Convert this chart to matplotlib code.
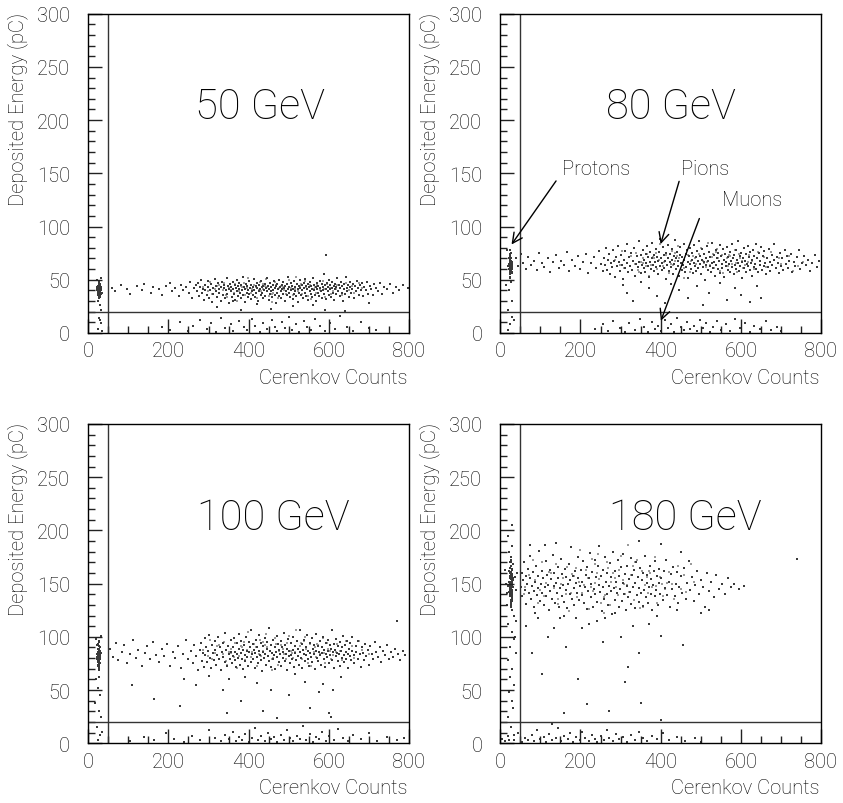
import numpy as np
import matplotlib
matplotlib.use('Agg')
import matplotlib.pyplot as plt
from matplotlib.ticker import MultipleLocator

plt.rcParams['font.family'] = ['Roboto', 'DejaVu Sans']
plt.rcParams['font.weight'] = 'light'

# beam energies, one panel each
energies = ['50 GeV', '80 GeV', '100 GeV', '180 GeV']

# ---- 50 GeV ----
protons_50 = [(22,40),(25,42),(27,38),(28,41),(30,39),(24,36),(26,44),(29,40),(31,37),(27,43),
              (28,35),(25,39),(23,41),(30,45),(32,38),(26,47),(28,40),(29,42),(27,33),(24,38),
              (31,41),(28,44),(26,37),(30,39),(29,46),(27,41),(25,36),(33,40),(22,43),(28,39),
              (29,34),(26,42),(34,38),(27,48),(30,41),(25,39),(28,37),(31,43),(24,40),(29,35),
              (26,41),(29,38),(27,44),(30,42),(25,37),(28,46),(31,40),(27,35),(29,43),(26,39),
              (28,42),(30,37),(24,44),(27,40),(29,36),(28,41),(26,45),(32,42),(25,41),(28,38),
              (27,42),(30,44),(29,39),(26,36),(28,43),
              (24,30),(30,26),(33,22),(27,14),(31,9),(25,4),(35,2),(29,12),(22,50),(32,52)]
pions_50 = [(58,42),(66,39),(81,45),(97,41),(104,37),(121,44),(133,40),(139,46),(157,38),(161,43),
            (176,41),(183,36),(194,44),(203,47),(209,39),(217,42),(226,35),(231,45),(237,40),(244,43),
            (251,38),(255,48),(259,33),(264,42),(268,45),
            (271,39),(273,47),(276,35),(279,43),(281,50),(284,38),(285,41),(288,31),(291,45),(292,40),
            (295,36),(298,49),(299,43),(302,33),(304,40),(306,46),(309,29),(311,42),(312,37),(315,51),
            (318,39),(319,44),(321,34),(324,47),(325,41),(327,38),(330,43),(332,30),(333,48),(336,36),
            (338,42),(339,45),(341,33),(344,40),(345,52),(347,37),(349,44),(351,28),(352,41),(354,46),
            (356,39),(357,43),(359,34),(360,48),(362,41),(364,37),(365,45),(367,31),(368,42),(370,50),
            (371,39),(373,44),(374,35),(376,41),(377,47),(379,38),(381,33),(382,45),(384,40),(385,53),
            (387,36),(388,43),(390,29),(392,41),(393,46),(395,38),(396,44),(398,34),(399,40),(401,49),
            (402,37),(404,42),(405,32),(407,45),(409,39),(410,43),(412,36),(413,51),(414,40),(416,34),
            (418,44),(419,38),(421,47),(422,42),(424,30),(425,39),(427,45),(428,41),(430,36),(431,49),
            (433,43),(434,38),(436,33),(437,44),(439,40),(440,46),(442,35),(444,42),(445,52),(447,39),
            (448,44),(450,31),(451,41),(453,37),(454,47),(456,43),(457,39),(459,34),(460,45),(462,40),
            (463,49),(465,36),(466,42),(468,28),(469,44),(471,38),(472,46),(474,41),(475,35),(477,50),
            (478,43),(480,39),(481,33),(483,45),(484,41),(486,37),(487,48),(489,42),(490,30),(492,44),
            (493,39),(495,46),(496,36),(498,41),(499,53),(501,38),(502,43),(504,34),(505,47),(507,40),
            (508,44),(510,32),(511,41),(513,37),(514,49),(516,43),(517,39),(519,35),(520,46),(522,41),
            (523,29),(525,44),(526,38),(528,50),(529,42),(531,36),(532,45),(534,40),(535,33),(537,47),
            (538,42),(540,38),(541,51),(543,44),(544,35),(546,41),(547,46),(549,31),(550,43),(552,39),
            (553,48),(555,37),(556,44),(558,41),(559,34),(561,52),(562,40),(564,45),(565,36),(567,43),
            (568,30),(570,47),(571,41),(573,38),(574,44),(576,35),(577,49),(579,42),(580,39),(582,46),
            (583,33),(585,43),(586,40),(588,55),(589,37),(591,45),(592,41),(594,32),(595,47),(597,39),
            (598,43),(600,36),(601,50),(603,41),(604,45),(606,34),(607,42),(609,48),(610,38),(612,44),
            (613,31),(615,41),(616,46),(618,37),(619,43),
            (621,52),(623,39),(625,45),(627,35),(628,42),(630,48),(632,38),(634,44),(635,30),(637,41),
            (639,46),(641,37),(643,53),(645,42),(646,39),(648,45),(650,34),(652,43),(654,48),(656,38),
            (658,41),(660,46),(662,33),(665,44),(667,39),(670,49),(672,42),(675,36),(677,45),(680,40),
            (683,47),(686,35),(689,43),(692,40),(695,48),(698,37),(702,44),(706,41),(710,36),(714,46),
            (718,42),(723,39),(728,47),(733,37),(739,43),(745,41),(752,46),(759,38),(767,43),(776,40),
            (786,45),(797,42),
            (320,24),(380,22),(420,27),(455,23),(510,25),(560,26),(590,22),(640,21),(700,28),(360,30),
            (592,73)]
# fainter hits in the same band
faint_50 = [(437,41),(512,36),(389,47),(566,43),(298,39),(621,45),(473,33),(351,42),(540,49),(405,38),
            (588,41),(327,45),(459,37),(683,42),(372,30),(527,44),(611,39),(444,51),(315,41),(496,46),
            (556,32),(418,43),(643,47),(363,38),(579,40),(481,44),(287,43),(533,37),(399,52),(603,42),
            (452,35),(338,47),(571,45),(425,40),(664,38),(505,42),(380,44),(548,35),(466,48),(309,37),
            (596,46),(431,39),(519,53),(357,43),(634,36),(488,40),(414,45),(562,41),(345,34),(657,44),
            (475,42),(392,36),(585,49),(441,44),(522,39),(303,48),(617,41),(458,29),(367,46),(544,43),
            (493,37),(409,41),(675,47),(335,40),(553,45),(428,48),(606,37),(383,43),(515,41),(469,45),
            (321,44),(590,34),(447,43),(537,47),(376,39),(628,42),(501,50),(420,33),(568,38),(356,40),
            (485,43),(531,46),(396,42),(650,40),(462,38),(574,44),(343,36),(508,41),(435,46),(599,43)]
muons_50 = [(185,6),(205,3),(228,10),(250,2),(262,7),(280,12),(295,4),(305,9),(318,1),(330,14),
            (342,5),(355,8),(362,2),(375,11),(388,6),(396,3),(408,13),(415,7),(428,1),(436,9),
            (445,4),(458,12),(465,6),(472,2),(484,10),(492,5),(500,15),(508,3),(518,8),(526,1),
            (538,11),(545,6),(556,3),(565,13),(578,7),(590,2),(602,9),(615,4),(628,16),(645,6),
            (660,2),(680,10),(700,5),(718,3)]

# ---- 80 GeV ----
protons_80 = [(20,63),(22,60),(24,66),(25,58),(26,70),(27,62),(28,64),(23,55),(25,68),(26,61),
              (24,72),(27,59),(22,65),(29,67),(25,53),(26,64),(23,69),(28,57),(24,62),(27,75),
              (25,66),(21,60),(26,58),(30,63),(24,78),(25,52),(27,68),(23,65),(26,61),(28,56),
              (22,70),(25,64),(24,59),(27,62),(26,67),(29,60),(23,73),(25,65),
              (24,63),(26,65),(25,60),(27,67),(23,62),(26,70),(25,57),(28,62),(24,66),(26,59),
              (25,69),(27,64),(23,58),(26,63),(24,71),(28,66),(25,61),(27,56),(24,64),(26,68),
              (22,63),(25,74),(27,60),(29,65),(25,62),
              (15,45),(22,40),(28,30),(18,22),(30,15),(25,8),(20,3),(34,12),(27,48),(16,78)]
pions_80 = [(38,70),(44,63),(51,74),(57,66),(63,60),(69,71),(77,64),(84,68),(91,59),(97,75),
            (103,66),(110,62),(118,70),(124,57),(131,67),(139,73),(146,61),(152,68),(160,64),(167,76),
            (171,58),(179,69),(186,63),(193,72),(199,60),(206,67),(213,74),(219,56),(226,66),(233,71),
            (238,61),(245,77),(250,65),(255,58),(259,70),
            (262,64),(264,80),(267,59),(269,69),(272,74),(274,55),(277,66),(279,62),(282,78),(284,68),
            (286,53),(289,71),(291,63),(294,82),(296,67),(298,58),(301,73),(303,64),(305,51),(308,69),
            (310,77),(312,61),(315,66),(317,84),(319,57),(322,71),(324,63),(326,75),(329,59),(331,68),
            (333,80),(336,54),(338,65),(340,72),(343,62),(345,86),(347,67),(350,56),(352,73),(354,64),
            (356,78),(358,61),(359,69),(361,57),(363,74),(364,66),(366,82),(368,63),(369,71),(371,53),
            (373,67),(374,76),(376,60),(378,70),(379,85),(381,64),(383,58),(384,73),(386,67),(388,79),
            (389,62),(391,71),(393,55),(394,68),(396,76),(398,63),(399,88),(401,70),(403,59),(404,66),
            (406,81),(408,73),(409,61),(411,68),(413,51),(414,75),(416,64),(418,70),(419,83),(421,58),
            (423,67),(424,74),(426,62),(428,79),(429,69),(431,55),(433,72),(434,65),(436,87),(438,60),
            (439,70),(441,76),(443,63),(444,68),(446,54),(448,73),(449,81),(451,66),(453,59),(454,71),
            (456,64),(458,84),(459,69),(461,57),(463,74),(464,62),(466,78),(468,67),(469,52),(471,72),
            (473,65),(474,80),(476,60),(478,69),(479,75),(481,56),(483,66),(484,83),(486,63),(488,71),
            (489,58),(491,77),(493,68),(494,61),(496,86),(498,65),(499,72),(501,55),(503,69),(504,79),
            (506,62),(508,67),(509,74),(511,50),(513,70),(514,64),(516,82),(518,59),(519,68),(521,76),
            (523,63),(524,71),(526,57),(528,66),(529,85),(531,61),(533,73),(534,67),(536,54),(538,78),
            (539,64),(541,70),(543,60),(544,75),(546,68),(548,83),(549,56),(551,72),(553,65),(554,61),
            (556,79),(558,69),(559,53),(561,74),(563,63),(564,67),(566,81),(568,59),(569,71),(571,65),
            (573,76),(574,57),(576,68),(578,62),(579,84),(581,70),(583,55),(584,73),(586,64),(588,78),
            (589,60),(591,69),(593,66),(594,86),(596,58),(598,72),(599,63),(601,75),(603,67),(604,52),
            (606,70),(608,80),(609,61),(611,68),(613,74),(614,57),(616,65),(618,82),(619,63),(621,71),
            (623,59),(624,76),(626,66),(628,69),(629,54),(631,78),(633,62),(634,72),(636,65),(638,84),
            (639,60),
            (641,70),(643,57),(645,75),(647,64),(649,68),(651,81),(653,59),(655,72),(657,63),(659,77),
            (661,66),(663,55),(665,70),(667,62),(670,79),(672,67),(674,58),(677,73),(679,64),(682,69),
            (684,84),(687,61),(689,71),(692,66),(695,56),(697,75),(700,63),(703,70),(706,59),(709,78),
            (712,65),(715,72),(718,61),(721,68),(725,74),(728,57),(732,67),(736,63),(740,71),(744,78),
            (748,60),(752,66),(757,72),(762,64),(767,69),(772,58),(778,66),(784,73),(790,62),(795,68),
            (305,45),(315,38),(330,30),(350,48),(372,42),(390,35),(410,28),(425,46),(445,40),(468,33),
            (490,44),(505,26),(520,38),(548,47),(565,31),(585,42),(600,36),(622,29),(640,44),(650,33)]
faint_80 = [(437,68),(512,62),(389,75),(566,70),(298,64),(621,73),(473,57),(351,67),(540,79),(405,63),
            (588,66),(327,72),(459,61),(683,69),(372,54),(527,71),(611,64),(444,82),(315,66),(496,74),
            (556,56),(418,70),(643,76),(363,63),(579,65),(481,72),(287,69),(533,61),(399,84),(603,68),
            (452,59),(338,75),(571,73),(425,65),(664,62),(505,68),(380,71),(548,58),(466,78),(309,61),
            (596,74),(431,64),(519,85),(357,70),(634,60),(488,65),(414,73),(562,67),(345,57),(657,71),
            (475,68),(392,60),(585,78),(441,72),(522,64),(303,77),(617,67),(458,52),(367,74),(544,70),
            (493,61),(409,67),(675,76),(335,65),(553,73),(428,77),(606,61),(383,70),(515,67),(469,73),
            (321,71),(590,57),(447,70),(537,76),(376,64),(628,68),(501,80),(420,56),(568,63),(356,66),
            (485,70),(531,74),(396,69),(700,65),(462,62),(574,72),(343,59),(508,66),(435,75),(599,70),
            (720,72),(742,63),(695,70),(730,58),(755,67)]
muons_80 = [(235,4),(255,8),(268,2),(282,11),(298,5),(310,1),(322,9),(336,3),(348,13),(358,6),
            (368,1),(378,10),(386,4),(394,7),(402,2),(410,12),(418,5),(426,8),(434,1),(442,14),
            (450,6),(458,3),(466,10),(474,4),(482,7),(490,2),(498,12),(506,5),(514,9),(522,1),
            (530,6),(540,11),(550,3),(562,8),(574,2),(586,13),(598,5),(610,9),(622,1),(634,7),
            (648,4),(662,11),(676,3),(690,6),(700,2)]

# ---- 100 GeV ----
protons_100 = [(22,81),(24,77),(25,85),(26,79),(27,83),(28,88),(29,75),(30,80),(23,92),(26,72),
               (27,86),(28,78),(25,82),(29,90),(24,74),(27,84),(26,69),(28,81),(30,87),(25,76),
               (27,95),(23,79),(29,83),(26,71),(28,89),(24,80),(27,73),(31,85),(25,78),(28,91),
               (26,82),(27,76),(22,84),(29,79),(25,86),(28,74),(26,88),(30,81),(24,93),(27,70),
               (26,80),(28,83),(27,78),(25,86),(29,81),(26,75),(28,88),(27,84),(24,79),(30,83),
               (26,91),(28,77),(27,82),(25,73),(29,86),(27,80),(26,84),(28,71),(25,89),(27,76),
               (29,79),(26,87),(28,82),(24,85),(27,96),
               (20,60),(24,52),(30,45),(18,38),(27,30),(33,25),(22,15),(29,8),(25,3),(35,11),
               (19,98),(32,101),(28,62)]
pions_100 = [(54,89),(61,81),(68,94),(74,78),(83,86),(90,92),(96,75),(104,84),(111,97),(119,80),
             (125,88),(133,73),(141,85),(147,91),(154,79),(161,95),(169,83),(176,76),(183,89),(189,82),
             (197,93),(204,73),(211,86),(217,80),(224,91),(231,71),(237,84),(244,97),(249,79),(256,87),
             (261,75),(265,92),(270,82),(274,69),(278,88),
             (281,94),(283,77),(285,85),(288,72),(290,99),(292,83),(294,90),(297,76),(299,87),(301,102),
             (304,80),(306,71),(308,92),(310,85),(313,78),(315,96),(317,88),(319,74),(322,83),(324,100),
             (326,79),(328,90),(331,69),(333,86),(335,94),(337,81),(340,76),(342,104),(344,88),(346,73),
             (349,91),(351,84),(353,79),(355,97),(357,86),
             (359,75),(361,90),(362,82),(364,99),(366,78),(367,86),(369,72),(371,94),(372,84),(374,80),
             (376,103),(377,89),(379,74),(381,85),(382,96),(384,79),(386,88),(387,70),(389,92),(391,83),
             (392,77),(394,100),(396,87),(397,81),(399,73),(401,95),(402,86),(404,90),(406,76),(407,106),
             (409,84),(411,79),(412,93),(414,88),(416,71),(417,85),(419,97),(421,81),(422,90),(424,75),
             (426,87),(427,102),(429,83),(431,78),(432,94),(434,68),(436,86),(437,91),(439,80),(441,99),
             (442,84),(444,74),(446,89),(447,95),(449,82),(451,77),(452,108),(454,87),(456,72),(457,92),
             (459,85),(461,79),(462,97),(464,83),(466,90),(467,70),(469,86),(471,101),(472,81),(474,93),
             (476,76),(477,88),(479,84),(481,96),(482,73),(484,90),(486,80),(487,86),(489,104),(491,77),
             (492,92),(494,84),(496,69),(497,89),(499,98),(501,82),(502,87),(504,75),(506,94),(507,83),
             (509,79),(511,100),(512,88),(514,72),(516,91),(517,85),(519,78),(521,96),(522,82),(524,89),
             (526,74),(527,106),(529,86),(531,80),(532,93),(534,71),(536,88),(537,84),(539,97),(541,77),
             (542,90),(544,83),(546,102),(547,79),(549,87),(551,73),(552,94),(554,85),(556,81),(557,99),
             (559,76),(561,89),(562,84),(564,92),(566,70),(567,87),(569,103),(571,80),(572,91),(574,77),
             (576,86),(577,96),(579,83),(581,74),(582,90),(584,85),(586,100),(587,79),(589,88),(591,72),
             (592,94),(594,84),(596,81),(597,97),(599,87),(601,75),(602,92),(604,83),(606,89),(607,106),
             (609,78),(611,86),(612,93),(614,71),(616,88),(617,82),(619,98),(621,85),(622,77),(624,91),
             (626,84),(627,73),(629,95),(631,87),(632,80),(634,90),(636,101),(637,83),(639,76),(641,92),
             (642,86),(644,79),(646,96),(647,84),(649,71),(651,89),(652,82),(654,94),(656,78),(657,87),
             (659,100),
             (662,83),(664,75),(667,91),(669,86),(672,79),(674,96),(677,84),(680,72),(682,90),(685,85),
             (688,78),(691,93),(694,82),(697,88),(700,74),(704,91),(707,84),(711,79),(715,95),(719,86),
             (723,81),(727,90),(731,76),(736,87),(740,83),(745,92),(750,79),(755,86),(761,81),(766,89),
             (772,84),(778,78),(784,87),(790,83),(769,115),
             (110,55),(165,42),(240,60),(230,35),(270,55),(300,63),(335,50),(345,28),(380,40),(390,62),
             (420,57),(435,30),(455,50),(470,24),(500,45),(515,65),(540,58),(552,33),(575,48),(585,56),
             (600,28),(610,50),(630,62),(605,25),(350,60)]
faint_100 = [(437,87),(512,80),(389,95),(566,90),(298,82),(621,93),(473,74),(351,86),(540,100),(405,81),
             (588,85),(327,92),(459,79),(683,88),(372,71),(527,91),(611,83),(444,103),(315,85),(496,94),
             (556,73),(418,90),(643,96),(363,81),(579,84),(481,92),(287,88),(533,79),(399,105),(603,87),
             (452,77),(338,95),(571,93),(425,84),(664,80),(505,87),(380,91),(548,75),(466,99),(309,79),
             (596,94),(431,82),(519,106),(357,89),(634,78),(488,84),(414,93),(562,86),(345,74),(657,91),
             (475,87),(392,78),(585,99),(441,92),(522,82),(303,97),(617,86),(458,69),(367,94),(544,89),
             (493,79),(409,86),(675,96),(335,84),(553,93),(428,97),(606,79),(383,90),(515,86),(469,93),
             (321,91),(590,75),(447,90),(537,96),(376,82),(628,87),(501,101),(420,73),(568,81),(356,85),
             (485,89),(531,94),(396,88),(700,84),(462,80),(574,92),(343,77),(508,85),(435,95),(599,89)]
muons_100 = [(105,2),(140,6),(165,3),(195,10),(215,4),(240,1),(260,7),(280,3),(300,12),(315,5),
             (330,2),(342,8),(352,4),(360,11),(368,2),(376,6),(384,3),(392,9),(400,1),(408,5),
             (416,14),(424,3),(432,7),(440,2),(448,10),(456,4),(464,6),(472,1),(480,8),(488,3),
             (496,12),(504,5),(512,2),(520,7),(528,4),(536,16),(544,3),(552,9),(560,1),(568,6),
             (576,4),(584,11),(592,2),(600,7),(612,3),(624,13),(636,5),(648,2),(660,8),(680,4),
             (700,10),(720,2),(745,6),(770,3),(788,5)]

# ---- 180 GeV ----
protons_180 = [(20,148),(22,152),(24,140),(25,155),(26,145),(27,160),(28,150),(29,137),(30,158),(31,147),
               (23,143),(25,165),(26,132),(27,150),(28,153),(29,141),(24,170),(26,146),(27,128),(28,156),
               (30,149),(22,162),(25,138),(27,151),(29,144),(31,168),(24,155),(26,135),(28,147),(30,159),
               (21,142),(25,150),(27,175),(29,139),(32,153),(23,157),(26,130),(28,163),(27,145),(25,149),
               (29,152),(24,144),(26,172),(28,136),(30,154),
               (27,150),(26,145),(28,153),(25,141),(29,157),(27,138),(26,161),(28,148),(24,152),(30,144),
               (27,167),(25,149),(29,134),(26,155),(28,142),(27,158),(25,146),(29,151),(26,139),(28,164),
               (27,143),(24,156),(30,150),(26,133),(28,147),(27,154),(25,160),(29,140),(26,151),(28,136),
               (27,146),(31,155),(23,148),(26,170),(28,125),(14,150),(17,141),(36,156),(39,144),(12,163),
               (18,195),(30,185),(22,180),(35,120),(20,112),(28,105),(33,98),(25,90),(38,85),(19,78),
               (30,70),(24,62),(35,55),(21,48),(28,40),(32,33),(18,25),(26,15),(34,8),(22,3),
               (40,115),(42,160),(16,130),(29,205),(37,100)]
pions_180 = [(51,147),(53,160),(55,138),(57,153),(59,170),(61,144),(63,157),(65,131),(67,150),(69,164),
             (71,141),(73,155),(75,176),(77,136),(79,148),(81,161),(83,143),(85,128),(87,152),(89,167),
             (91,139),(93,157),(95,146),(97,181),(99,134),(101,150),(103,162),(105,141),(107,155),(109,130),
             (111,147),(113,171),(115,138),(117,158),(119,149),(121,125),(123,163),(125,143),(127,154),(129,136),
             (131,177),(133,148),(135,160),(137,132),(139,151),(141,141),(143,166),(145,155),(147,128),(149,146),
             (151,173),(153,138),(155,159),(157,149),(159,133),(161,164),(163,144),(165,156),(167,127),(169,150),
             (171,168),(173,140),(175,153),(177,184),(179,136),(181,157),(183,146),(185,130),(187,162),(189,151),
             (191,141),(193,175),(195,155),(197,135),(199,148),(74,186),(112,186),(138,188),(86,122),(160,120),
             (201,163),(203,139),(205,152),(207,171),(209,132),(211,147),(213,158),(215,126),(217,166),(219,143),
             (221,155),(223,179),(225,137),(227,150),(229,161),(231,128),(233,145),(235,172),(237,140),(239,156),
             (241,133),(243,167),(245,149),(247,185),(249,142),(251,157),(253,124),(255,163),(257,147),(259,136),
             (261,175),(263,152),(265,140),(267,160),(269,130),(271,148),(273,169),(275,143),(277,156),(279,121),
             (281,180),(283,146),(285,135),(287,162),(289,152),(291,141),(293,172),(295,128),(297,157),(299,145),
             (301,166),(303,134),(305,151),(307,178),(309,140),(311,159),(313,125),(315,148),(317,167),(319,137),
             (321,154),(323,142),(325,174),(327,131),(329,158),(331,147),(333,163),(335,127),(337,151),(339,170),
             (341,139),(343,156),(345,133),(347,146),(349,165),(351,141),(353,153),(355,129),(357,160),(359,144),
             (361,176),(363,137),(365,151),(367,158),(369,132),(371,147),(373,167),(375,140),(377,154),(379,125),
             (381,149),(383,162),(385,138),(387,171),(389,144),(391,157),(393,130),(395,151),(397,164),(399,140),
             (402,155),(405,135),(408,162),(411,146),(414,172),(417,139),(420,152),(423,128),(426,159),(429,145),
             (432,166),(435,138),(438,150),(441,161),(444,132),(447,147),(450,157),(454,141),(458,165),(462,136),
             (466,151),(470,171),(474,144),(478,156),(482,134),(486,149),(490,162),(495,140),(500,153),(505,147),
             (510,128),(515,160),(520,143),(526,152),(532,137),(538,158),(545,145),(552,150),(560,140),(567,155),
             (575,147),(584,150),(595,145),(608,148),(740,173),(520,125),(450,180),(345,190),(400,187),
             (65,110),(80,85),(95,118),(105,65),(120,100),(135,108),(150,118),(160,28),(165,90),(190,118),
             (195,60),(205,108),(215,37),(220,112),(240,115),(255,95),(260,118),(270,30),(285,122),(300,100),
             (310,58),(318,72),(330,110),(345,85),(350,38),(370,112),(390,120),(400,101),(440,125),(455,92),
             (500,122)]
faint_180 = [(237,151),(312,140),(189,165),(366,156),(98,144),(421,161),(273,130),(151,150),(340,172),(205,141),
             (388,148),(127,160),(259,137),(483,152),(172,124),(327,158),(411,145),(244,178),(115,151),(296,163),
             (356,128),(218,155),(443,167),(163,140),(379,147),(281,160),(87,153),(333,135),(199,182),(403,150),
             (252,132),(138,168),(371,162),(225,147),(464,142),(305,153),(180,159),(348,127),(266,170),(109,138),
             (396,164),(231,143),(319,186),(157,155),(434,136),(288,147),(214,163),(362,149),(145,131),(457,158),
             (275,152),(192,137),(385,175),(241,160),(322,142),(103,170),(417,151),(258,122),(167,166),(344,156),
             (293,139),(209,149),(475,168),(135,146),(353,162),(228,173),(406,138),(183,157),(315,149),(269,165),
             (121,161),(390,132),(247,154),(337,170),(176,141),(428,150),(301,176),(220,126),(368,141),(156,149),
             (285,155),(331,167),(196,152),(450,145),(262,139),(374,160),(143,136),(308,150),(235,168),(399,156),
             (72,158),(93,132),(62,147),(81,172),(58,140)]
muons_180 = [(5,4),(12,2),(20,7),(35,3),(45,10),(55,1),(62,5),(70,3),(78,8),(85,2),
             (92,12),(100,4),(108,6),(115,1),(122,9),(130,3),(138,5),(145,14),(152,2),(160,7),
             (168,4),(175,10),(182,1),(190,6),(198,3),(205,11),(212,5),(220,2),(228,8),(235,4),
             (242,1),(250,7),(258,3),(265,12),(272,5),(280,2),(288,9),(296,4),(305,6),(315,1),
             (325,8),(335,3),(345,11),(355,5),(365,2),(378,7),(390,4),(405,10),(420,3),(440,6),
             (460,2),(485,5),(500,1),(128,18),(400,22)]

dark_points = [(protons_50, pions_50, muons_50),
               (protons_80, pions_80, muons_80),
               (protons_100, pions_100, muons_100),
               (protons_180, pions_180, muons_180)]
faint_points = [faint_50, faint_80, faint_100, faint_180]

# selection cuts
cerenkov_cut = 50
energy_cut = 20

# label positions of the energy text (data coords)
label_pos = [(428, 213), (425, 213), (461, 212), (462, 212)]

# axes rectangles in figure fraction
lefts = [0.1047, 0.5935, 0.1047, 0.5935]
bottoms = [0.5846, 0.5846, 0.0743, 0.0743]
w, h = 0.3804, 0.3971

fs = 14.5

fig = plt.figure(figsize=(8.43, 8.04), dpi=100)

for i in range(4):
    ax = fig.add_axes([lefts[i], bottoms[i], w, h])
    xy = np.array(faint_points[i], dtype=float)
    ax.scatter(xy[:, 0], xy[:, 1], s=1.1, marker='s', c='#9a9a9a', linewidths=0)
    for grp in dark_points[i]:
        xy = np.array(grp, dtype=float)
        ax.scatter(xy[:, 0], xy[:, 1], s=1.1, marker='s', c='#3a3a3a', linewidths=0)

    ax.axvline(cerenkov_cut, color='#333333', lw=1.0)
    ax.axhline(energy_cut, color='#333333', lw=1.0)

    ax.set_xlim(0, 800)
    ax.set_ylim(0, 300)
    ax.xaxis.set_major_locator(MultipleLocator(200))
    ax.xaxis.set_minor_locator(MultipleLocator(50))
    ax.yaxis.set_major_locator(MultipleLocator(50))
    ax.yaxis.set_minor_locator(MultipleLocator(10))
    ax.tick_params(which='both', direction='in', top=False, right=False,
                   width=1.0, labelsize=fs, color='#222222', labelcolor='black')
    ax.tick_params(which='major', length=10)
    ax.tick_params(which='minor', length=5)
    ax.tick_params(axis='y', which='major', pad=13)
    ax.tick_params(axis='x', which='major', pad=6)
    for sp in ax.spines.values():
        sp.set_linewidth(1.0)

    ax.text(-0.222, 1.006, 'Deposited Energy (pC)', transform=ax.transAxes,
            rotation=90, rotation_mode='anchor', ha='right', va='center', fontsize=fs)
    ax.text(0.994, -0.138, 'Cerenkov Counts', transform=ax.transAxes,
            ha='right', va='center', fontsize=fs)

    ax.text(label_pos[i][0], label_pos[i][1], energies[i], ha='center', va='center',
            fontsize=30)

    if i == 1:
        arrow = dict(arrowstyle='->', lw=1.0, color='black', mutation_scale=18)
        ax.annotate('', xy=(24, 81), xytext=(143, 145), arrowprops=arrow)
        ax.annotate('', xy=(398, 81), xytext=(448, 145), arrowprops=arrow)
        ax.annotate('', xy=(398, 9), xytext=(499, 110), arrowprops=arrow)
        ax.text(153, 155, 'Protons', ha='left', va='center', fontsize=fs)
        ax.text(450, 155, 'Pions', ha='left', va='center', fontsize=fs)
        ax.text(552, 125, 'Muons', ha='left', va='center', fontsize=fs)

fig.savefig('out.png', dpi=100)
